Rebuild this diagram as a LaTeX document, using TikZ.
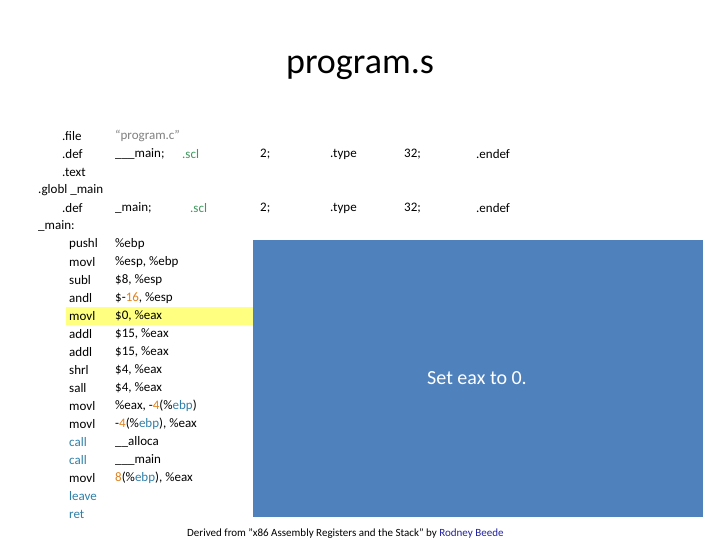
\documentclass[tikz,border=0pt]{standalone}
\usepackage{fontspec}
\setmainfont{Carlito}
\definecolor{boxblue}{HTML}{4F81BD}
\definecolor{hl}{HTML}{FFFF80}
\definecolor{sclg}{HTML}{3A9A5A}
\definecolor{numo}{HTML}{E0801A}
\definecolor{regb}{HTML}{2F7FA8}
\definecolor{grayt}{HTML}{808080}
\definecolor{linkb}{HTML}{1F1FA0}
\begin{document}
\begin{tikzpicture}[x=1pt,y=-1pt,
  code/.style={anchor=west,inner sep=0pt,font=\fontsize{13}{15}\selectfont},
  ]
\useasboundingbox (0,0) rectangle (720,540);
\node[inner sep=0pt,font=\fontsize{36}{40}\selectfont] (title) at (360,68) {program.s};
\fill[hl] (66,307) rectangle (253,325);
\node[fill=boxblue,minimum width=450pt,minimum height=277pt,anchor=north west,inner sep=0pt] (box) at (253,240) {};
\node[text=white,font=\fontsize{20}{24}\selectfont] (msg) at (477,378) {Set eax to 0.};
% header rows
\node[code] (l1a) at (62,136) {.file};
\node[code,text=grayt] (l1b) at (115,136) {“program.c"};
\node[code] (l2a) at (62,154) {.def};
\node[code] (l2b) at (115,154) {\_\_\_main;};
\node[code,text=sclg] (l2c) at (182,154) {.scl};
\node[code] (l2d) at (260,154) {2;};
\node[code] (l2e) at (330,154) {.type};
\node[code] (l2f) at (404,154) {32;};
\node[code] (l2g) at (476,154) {.endef};
\node[code] (l3a) at (62,172) {.text};
\node[code] (l4a) at (38,190) {.globl \_main};
\node[code] (l5a) at (62,208) {.def};
\node[code] (l5b) at (115,208) {\_main;};
\node[code,text=sclg] (l5c) at (190,208) {.scl};
\node[code] (l5d) at (260,208) {2;};
\node[code] (l5e) at (330,208) {.type};
\node[code] (l5f) at (404,208) {32;};
\node[code] (l5g) at (476,208) {.endef};
\node[code] (l6a) at (38,226) {\_main:};
% instructions
\foreach \i/\m/\o in {0/pushl/\%ebp,1/movl/{\%esp, \%ebp},2/subl/{\$8, \%esp},
  3/andl/{\$-\textcolor{numo}{16}, \%esp},4/movl/{\$0, \%eax},5/addl/{\$15, \%eax},
  6/addl/{\$15, \%eax},7/shrl/{\$4, \%eax},8/sall/{\$4, \%eax},
  9/movl/{\%eax, -\textcolor{numo}{4}(\%\textcolor{regb}{ebp})},
  10/movl/{-\textcolor{numo}{4}(\%\textcolor{regb}{ebp}), \%eax},
  13/movl/{\textcolor{numo}{8}(\%\textcolor{regb}{ebp}), \%eax}}{
  \node[code] (m\i) at (69,244+18*\i) {\m};
  \node[code] (o\i) at (115,244+18*\i) {\o};
}
\node[code,text=regb] (m11) at (69,442) {call};
\node[code] (o11) at (115,442) {\_\_alloca};
\node[code,text=regb] (m12) at (69,460) {call};
\node[code] (o12) at (115,460) {\_\_\_main};
\node[code,text=regb] (m14) at (69,496) {leave};
\node[code,text=regb] (m15) at (69,514) {ret};
\node[anchor=west,inner sep=0pt,font=\fontsize{11}{13}\selectfont] (foot) at (187,535) {Derived from "x86 Assembly Registers and the Stack" by \textcolor{linkb}{\underline{Rodney Beede}}};
\end{tikzpicture}
\end{document}
